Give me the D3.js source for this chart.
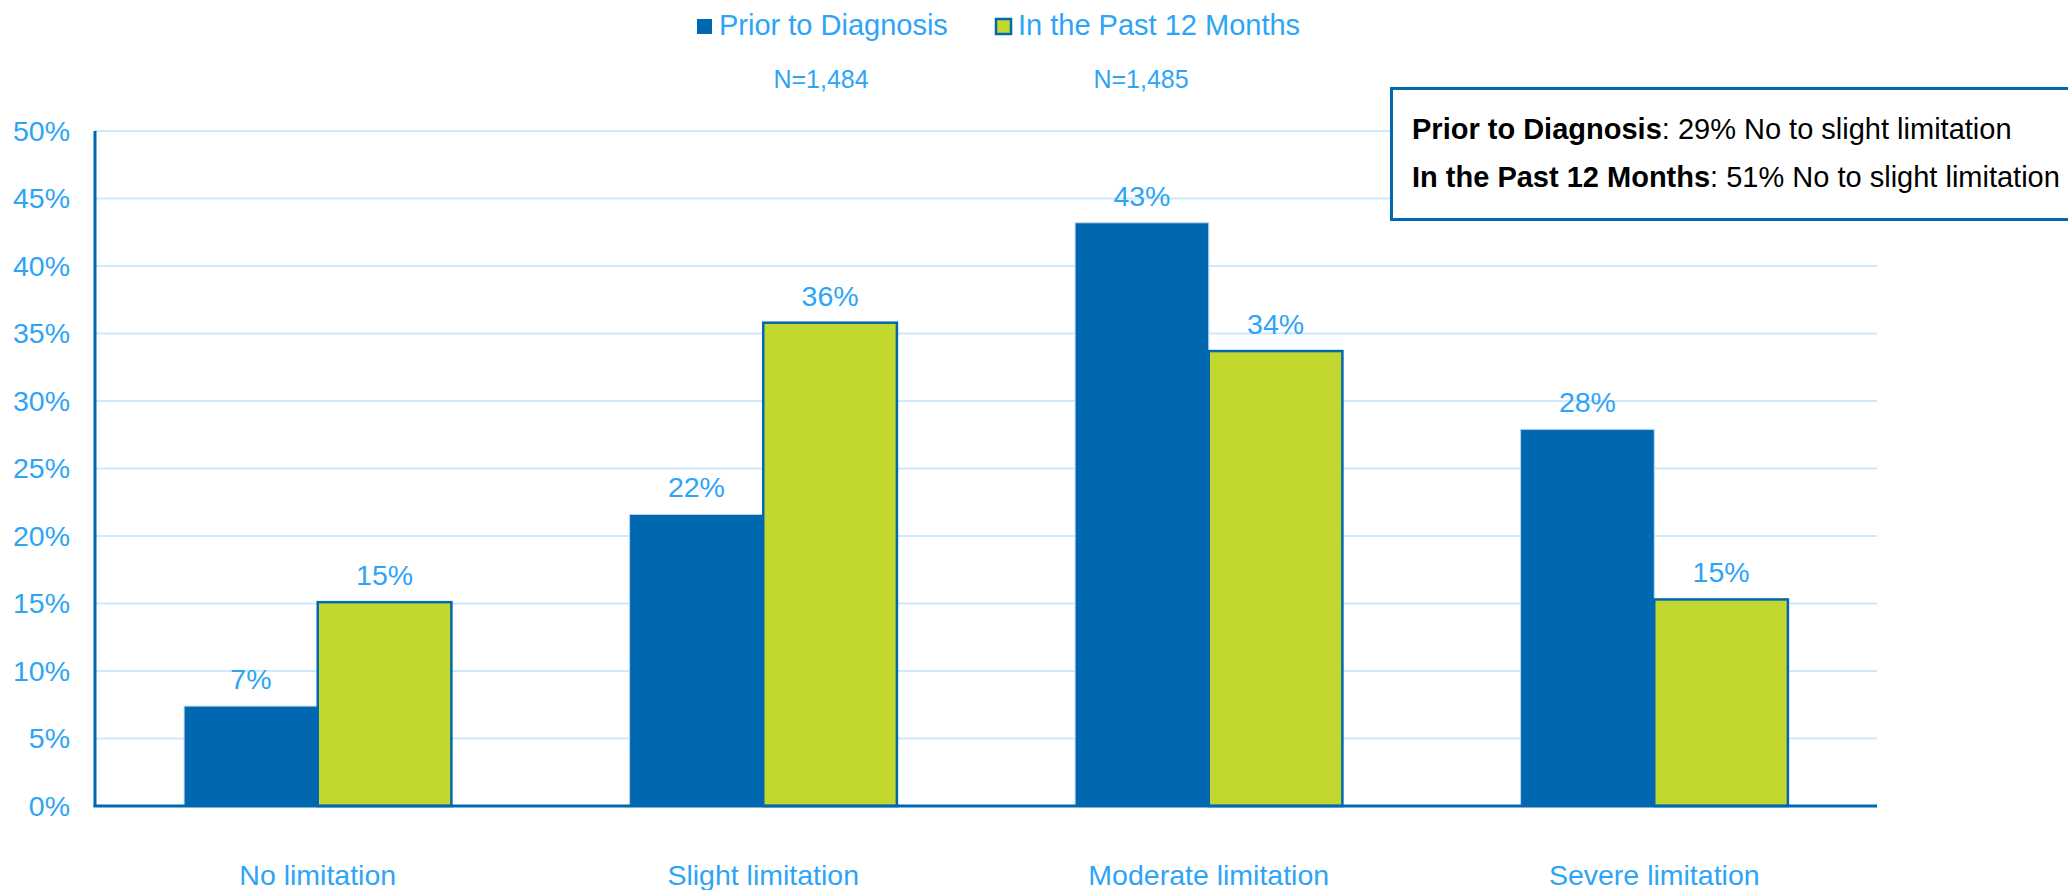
<!DOCTYPE html>
<html>
<head>
<meta charset="utf-8">
<script src="https://cdn.jsdelivr.net/npm/d3@7"></script>
<style>
	body { margin: 0; background: #fff; }
	svg text { font-family: "Liberation Sans", Arial, sans-serif; }
</style>
</head>
<body>
<div id="chart"></div>
<script>
// data (percent)
var categories = ['No limitation', 'Slight limitation', 'Moderate limitation', 'Severe limitation'];
var seriesNames = ['Prior to Diagnosis', 'In the Past 12 Months'];
var priorValues = [7.4, 21.6, 43.2, 27.9];
var pastValues = [15.1, 35.8, 33.7, 15.3];
var sampleSizes = ['N=1,484', 'N=1,485'];
var yTicks = [0, 5, 10, 15, 20, 25, 30, 35, 40, 45, 50];
var noteLines = [
	['Prior to Diagnosis', ': 29% No to slight limitation'],
	['In the Past 12 Months', ': 51% No to slight limitation']
];

var W = 2068, H = 890;
var plot = { left: 95, right: 1877, top: 131, bottom: 806 };
var colors = ['#0068b1', '#c2d82e'];
var textBlue = '#2ea4f7';

var svg = d3.select('#chart').append('svg')
	.attr('width', W)
	.attr('height', H);

let x0 = d3.scaleBand()
	.domain(categories)
	.range([plot.left, plot.right])
	.paddingInner(0.4)
	.paddingOuter(0.2);
let x1 = d3.scaleBand()
	.domain(seriesNames)
	.range([0, x0.bandwidth()]);
let y = d3.scaleLinear()
	.domain([0, 50])
	.range([plot.bottom, plot.top]);

// gridlines
svg.append('g')
	.selectAll('line')
	.data(yTicks.filter(d => d > 0))
	.join('line')
	.attr('x1', plot.left)
	.attr('x2', plot.right)
	.attr('y1', d => y(d))
	.attr('y2', d => y(d))
	.attr('stroke', '#cfe8fa')
	.attr('stroke-width', 2);

// y axis labels
let yAxis = d3.axisLeft(y)
	.tickValues(yTicks)
	.tickFormat(d => d + '%')
	.tickSize(0)
	.tickPadding(25);
let yg = svg.append('g')
	.attr('transform', 'translate(' + plot.left + ',0)')
	.call(yAxis);
yg.select('.domain').remove();
yg.selectAll('text')
	.attr('fill', textBlue)
	.style('font-size', '28.5px');

// bars
let rows = categories.map((c, i) => ({ cat: c, vals: [priorValues[i], pastValues[i]] }));
let groups = svg.append('g')
	.selectAll('g')
	.data(rows)
	.join('g')
	.attr('transform', d => 'translate(' + x0(d.cat) + ',0)');

groups.selectAll('rect')
	.data(d => d.vals.map((v, j) => ({ s: seriesNames[j], v: v, j: j })))
	.join('rect')
	.attr('x', d => x1(d.s))
	.attr('y', d => y(d.v))
	.attr('width', x1.bandwidth())
	.attr('height', d => y(0) - y(d.v))
	.attr('fill', d => colors[d.j])
	.attr('stroke', d => d.j == 0 ? '#bcd6ee' : '#0068b1')
	.attr('stroke-width', d => d.j == 0 ? 1 : 2.5);

groups.selectAll('text')
	.data(d => d.vals.map((v, j) => ({ s: seriesNames[j], v: v })))
	.join('text')
	.attr('x', d => x1(d.s) + x1.bandwidth() / 2)
	.attr('y', d => y(d.v) - 17)
	.attr('text-anchor', 'middle')
	.attr('fill', textBlue)
	.style('font-size', '28.5px')
	.text(d => Math.round(d.v) + '%');

// axis lines
svg.append('line')
	.attr('x1', plot.left).attr('x2', plot.left)
	.attr('y1', plot.top).attr('y2', plot.bottom)
	.attr('stroke', '#0068b1').attr('stroke-width', 3);
svg.append('line')
	.attr('x1', plot.left - 1.5).attr('x2', plot.right)
	.attr('y1', plot.bottom).attr('y2', plot.bottom)
	.attr('stroke', '#0068b1').attr('stroke-width', 3);

// category labels
svg.append('g')
	.selectAll('text')
	.data(categories)
	.join('text')
	.attr('x', d => x0(d) + x0.bandwidth() / 2)
	.attr('y', 885)
	.attr('text-anchor', 'middle')
	.attr('fill', textBlue)
	.style('font-size', '28.5px')
	.text(d => d);

// legend
let legendX = [696, 995];
let legend = svg.append('g')
	.selectAll('g')
	.data(seriesNames)
	.join('g')
	.attr('transform', (d, i) => 'translate(' + legendX[i] + ',0)');
legend.append('rect')
	.attr('x', 1).attr('y', 19)
	.attr('width', 15).attr('height', 15)
	.attr('fill', (d, i) => colors[i])
	.attr('stroke', '#0068b1')
	.attr('stroke-width', (d, i) => i == 0 ? 0 : 2.5);
legend.append('text')
	.attr('x', 23)
	.attr('y', 35)
	.attr('fill', textBlue)
	.style('font-size', '29px')
	.text(d => d);

// sample sizes
let nX = [821, 1141];
svg.append('g')
	.selectAll('text')
	.data(sampleSizes)
	.join('text')
	.attr('x', (d, i) => nX[i])
	.attr('y', 88)
	.attr('text-anchor', 'middle')
	.attr('fill', textBlue)
	.style('font-size', '25px')
	.text(d => d);

// note box, runs off the right edge
svg.append('rect')
	.attr('x', 1391.5)
	.attr('y', 88.5)
	.attr('width', 700)
	.attr('height', 131)
	.attr('fill', '#fff')
	.attr('stroke', '#0068b1')
	.attr('stroke-width', 3);
let note = svg.append('text')
	.style('font-size', '29px')
	.attr('fill', '#000');
noteLines.forEach(function (l, i) {
	let t = note.append('tspan')
		.attr('x', 1412)
		.attr('y', 139 + i * 48);
	t.append('tspan').style('font-weight', 'bold').text(l[0]);
	t.append('tspan').text(l[1]);
});
</script>
</body>
</html>
